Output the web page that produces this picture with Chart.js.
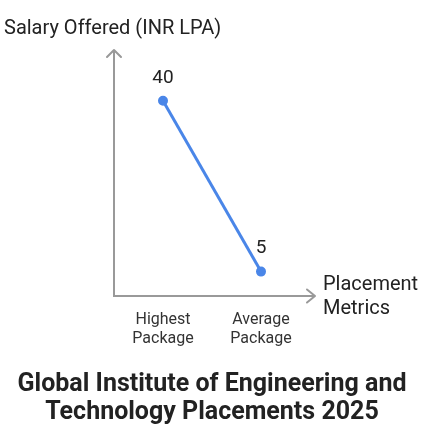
<!DOCTYPE html>
<html lang="en">
<head>
    <meta charset="UTF-8">
    <title>Placements 2025</title>
    <script src="https://cdn.jsdelivr.net/npm/chart.js"></script>
    <style>
        html, body { margin: 0; padding: 0; background: #fff; }
        #wrap { width: 442px; height: 445px; }
    </style>
</head>
<body>
<div id="wrap"><canvas id="myChart"></canvas></div>

<script>
    // Chart data
    var categories = [['Highest', 'Package'], ['Average', 'Package']];
    var salaries = [40, 5];
    var yTitle = 'Salary Offered (INR LPA)';
    var xTitle = ['Placement', 'Metrics'];
    var chartTitle = ['Global Institute of Engineering and', 'Technology Placements 2025'];

    var axisGray = '#999999';
    var textColor = '#222222';
    var fontFamily = 'Roboto, "Noto Sans", sans-serif';

    // Arrow heads, value labels, axis titles and the main title
    var extrasPlugin = {
        id: 'extras',
        afterDraw: function (chart) {
            var ctx = chart.ctx;
            var area = chart.chartArea;
            ctx.save();
            ctx.strokeStyle = axisGray;
            ctx.lineWidth = 2;
            ctx.lineCap = 'round';
            ctx.lineJoin = 'round';
            // y axis arrow
            ctx.beginPath();
            ctx.moveTo(area.left, area.top);
            ctx.lineTo(area.left, area.top - 2);
            ctx.moveTo(area.left - 7, area.top + 5);
            ctx.lineTo(area.left, area.top - 2);
            ctx.lineTo(area.left + 7, area.top + 5);
            ctx.stroke();
            // x axis arrow
            ctx.beginPath();
            ctx.moveTo(area.right, area.bottom);
            ctx.lineTo(area.right + 5, area.bottom);
            ctx.moveTo(area.right - 3, area.bottom - 6.5);
            ctx.lineTo(area.right + 5, area.bottom);
            ctx.lineTo(area.right - 3, area.bottom + 6.5);
            ctx.stroke();

            // value labels
            ctx.fillStyle = textColor;
            ctx.font = '19px ' + fontFamily;
            ctx.textAlign = 'center';
            ctx.textBaseline = 'middle';
            var meta = chart.getDatasetMeta(0);
            meta.data.forEach(function (pt, i) {
                ctx.fillText(String(salaries[i]), pt.x, pt.y - 23);
            });

            // axis titles
            ctx.font = '20px ' + fontFamily;
            ctx.textAlign = 'left';
            ctx.fillText(yTitle, 4, 29);
            xTitle.forEach(function (line, i) {
                ctx.fillText(line, area.right + 13, area.bottom - 11 + i * 24);
            });

            // main title
            ctx.font = 'bold 25px ' + fontFamily;
            ctx.textAlign = 'center';
            chartTitle.forEach(function (line, i) {
                ctx.fillText(line, 212, 385 + i * 28);
            });
            ctx.restore();
        }
    };

    var ctx = document.getElementById('myChart').getContext('2d');
    var myChart = new Chart(ctx, {
        type: 'line',
        data: {
            labels: categories,
            datasets: [{
                label: 'Salary',
                data: salaries,
                borderColor: '#4a86e8',
                backgroundColor: '#4a86e8',
                borderWidth: 3,
                pointRadius: 3.5,
                pointHoverRadius: 3.5,
                fill: false
            }]
        },
        options: {
            responsive: true,
            maintainAspectRatio: false,
            animation: false,
            layout: {
                padding: { left: 0, right: 132, top: 52, bottom: 89 }
            },
            plugins: {
                legend: { display: false },
                tooltip: { enabled: false },
                title: { display: false }
            },
            scales: {
                x: {
                    offset: true,
                    grid: { display: false },
                    border: { display: true, color: axisGray, width: 2 },
                    ticks: {
                        color: '#333333',
                        padding: 6,
                        maxRotation: 0,
                        font: { family: fontFamily, size: 16, lineHeight: 1.2 }
                    },
                    afterFit: function (scale) { scale.height = 60; }
                },
                y: {
                    min: 0,
                    max: 50,
                    grid: { display: false },
                    border: { display: true, color: axisGray, width: 2 },
                    ticks: { display: false },
                    afterFit: function (scale) { scale.width = 114; }
                }
            }
        },
        plugins: [extrasPlugin]
    });
</script>
</body>
</html>
